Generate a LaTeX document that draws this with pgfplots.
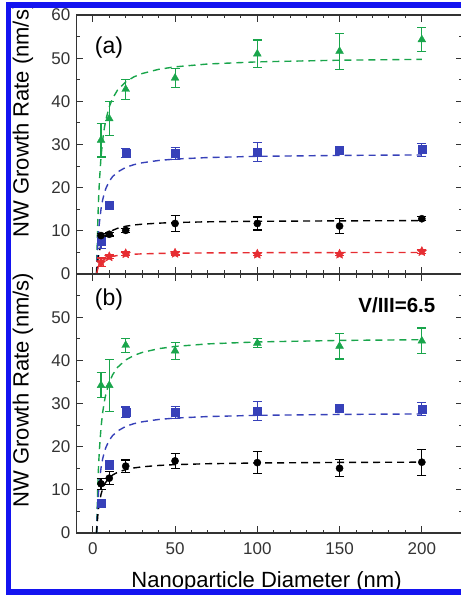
\documentclass[border=0pt]{standalone}
\usepackage{fontspec}
\setmainfont{Liberation Sans}
\usepackage{pgfplots}
\pgfplotsset{compat=1.18}

\definecolor{cgreen}{RGB}{25,165,75}
\definecolor{cblue}{RGB}{55,65,185}
\definecolor{cred}{RGB}{230,45,50}
\definecolor{frameblue}{RGB}{20,20,240}

% filled five-point star
\pgfdeclareplotmark{fstar}{%
  \pgfpathmoveto{\pgfqpointpolar{90}{\pgfplotmarksize}}%
  \pgfpathlineto{\pgfqpointpolar{126}{0.5\pgfplotmarksize}}%
  \pgfpathlineto{\pgfqpointpolar{162}{\pgfplotmarksize}}%
  \pgfpathlineto{\pgfqpointpolar{198}{0.5\pgfplotmarksize}}%
  \pgfpathlineto{\pgfqpointpolar{234}{\pgfplotmarksize}}%
  \pgfpathlineto{\pgfqpointpolar{270}{0.5\pgfplotmarksize}}%
  \pgfpathlineto{\pgfqpointpolar{306}{\pgfplotmarksize}}%
  \pgfpathlineto{\pgfqpointpolar{342}{0.5\pgfplotmarksize}}%
  \pgfpathlineto{\pgfqpointpolar{18}{\pgfplotmarksize}}%
  \pgfpathlineto{\pgfqpointpolar{54}{0.5\pgfplotmarksize}}%
  \pgfpathclose\pgfusepathqfillstroke}

\pgfplotsset{
  nwpanel/.style={
    scale only axis, width=386.6pt, height=259pt,
    anchor=south west,
    xmin=-10, xmax=225, ymin=0, ymax=60,
    xtick={0,50,...,200}, minor x tick num=4,
    ytick={0,10,...,60}, minor y tick num=1,
    tick align=inside, major tick length=7pt, minor tick length=3.5pt,
    tick style={black!80, line width=1pt},
    axis line style={black!80, line width=1.3pt},
    tick label style={font=\fontsize{17}{17}\selectfont, text=black!80},
    label style={font=\fontsize{22}{22}\selectfont},
    /pgf/number format/assume math mode=true,
    xticklabel style={yshift=-6pt},
    yticklabel style={xshift=-2.5pt},
    ylabel={NW Growth Rate (nm/s)},
  },
  fit/.style={no marks, line width=1.4pt, dash pattern=on 7pt off 5pt},
  pts/.style={only marks, mark size=#1,
    error bars/y dir=both, error bars/y explicit,
    error bars/error bar style={line width=1.1pt, solid},
    error bars/error mark options={rotate=90, mark size=4.5pt, line width=1.1pt, solid}},
}

\begin{document}
\begin{tikzpicture}[x=1pt,y=1pt]
\path[use as bounding box] (0,0) rectangle (460,596);

% panel (a)
\begin{axis}[nwpanel, at={(76.35pt,322pt)},
    xticklabels={},
    ylabel style={at={(axis description cs:-0.138,0.595)}, anchor=center}]
\addplot[fit, cgreen] coordinates {(2.3,0) (2.5,4.02) (3,11.74) (3.5,17.25) (4,21.38) (5,27.16) (6,31.02) (7,33.77) (8,35.84) (10,38.73) (12,40.66) (15,42.59) (20,44.52) (25,45.67) (30,46.44) (40,47.41) (50,47.99) (70,48.65) (100,49.14) (150,49.53) (200,49.72)};
\addplot[fit, cblue] coordinates {(2.3,0) (2.5,2.23) (3,6.51) (3.5,9.57) (4,11.86) (5,15.07) (6,17.21) (7,18.73) (8,19.88) (10,21.48) (12,22.55) (15,23.62) (20,24.69) (25,25.33) (30,25.76) (40,26.30) (50,26.62) (70,26.98) (100,27.26) (150,27.47) (200,27.58)};
\addplot[fit, black] coordinates {(2.3,0) (2.5,1.0) (3,2.92) (3.5,4.29) (4,5.31) (5,6.75) (6,7.71) (7,8.39) (8,8.91) (10,9.63) (12,10.10) (15,10.58) (20,11.06) (25,11.35) (30,11.54) (40,11.78) (50,11.93) (70,12.09) (100,12.21) (150,12.31) (200,12.36)};
\addplot[fit, cred] coordinates {(2.3,0) (2.5,0.40) (3,1.18) (3.5,1.73) (4,2.15) (5,2.73) (6,3.11) (7,3.39) (8,3.60) (10,3.89) (12,4.08) (15,4.28) (20,4.47) (25,4.59) (30,4.66) (40,4.76) (50,4.82) (70,4.88) (100,4.93) (150,4.97) (200,4.99)};

\addplot[cgreen, pts=4.5pt, mark=triangle*] coordinates {
  (5,31.0) +- (0,3.9) (10,36.0) +- (0,4.0) (20,42.8) +- (0,2.3) (50,45.4) +- (0,2.2)
  (100,51.0) +- (0,3.2) (150,51.6) +- (0,4.2) (200,54.3) +- (0,2.7)};
\addplot[cblue, pts=4pt, mark=square*] coordinates {
  (5,7.5) +- (0,1.5) (10,15.9) +- (0,0.6) (20,28.0) +- (0,1.0) (50,28.0) +- (0,1.4)
  (100,28.2) +- (0,2.2) (150,28.6) +- (0,0.7) (200,28.8) +- (0,1.5)};
\addplot[black, pts=3.6pt, mark=*] coordinates {
  (5,8.9) +- (0,0.5) (10,9.2) +- (0,0.4) (20,10.1) +- (0,0.5) (50,11.7) +- (0,1.9)
  (100,11.7) +- (0,1.5) (150,11.1) +- (0,1.7) (200,12.8) +- (0,0.5)};
\addplot[cred, pts=5pt, mark=fstar] coordinates {
  (5,2.7) +- (0,1.0) (10,4.0) +- (0,0.4) (20,4.7) +- (0,0.4) (50,4.8) +- (0,0.4)
  (100,4.6) +- (0,0.4) (150,4.6) +- (0,0.4) (200,5.2) +- (0,0.5)};

\node[font=\fontsize{23}{23}\selectfont] at (axis description cs:0.0845,0.876) {(a)};
\end{axis}

% panel (b)
\begin{axis}[nwpanel, at={(76.35pt,63pt)},
    yticklabels={0,10,20,30,40,50,{}},
    xlabel={Nanoparticle Diameter (nm)},
    xlabel style={at={(axis description cs:0.492,-0.212)}, anchor=base},
    ylabel style={at={(axis description cs:-0.138,0.552)}, anchor=center}]
\addplot[fit, cgreen] coordinates {(2.3,0) (2.5,3.62) (3,10.57) (3.5,15.53) (4,19.25) (5,24.46) (6,27.94) (7,30.41) (8,32.28) (10,34.88) (12,36.62) (15,38.36) (20,40.09) (25,41.13) (30,41.83) (40,42.70) (50,43.22) (70,43.81) (100,44.26) (150,44.61) (200,44.78)};
\addplot[fit, cblue] coordinates {(2.3,0) (2.5,2.23) (3,6.51) (3.5,9.57) (4,11.86) (5,15.07) (6,17.21) (7,18.73) (8,19.88) (10,21.48) (12,22.55) (15,23.62) (20,24.69) (25,25.33) (30,25.76) (40,26.30) (50,26.62) (70,26.98) (100,27.26) (150,27.47) (200,27.58)};
\addplot[fit, black] coordinates {(2.3,0) (2.5,1.33) (3,3.87) (3.5,5.69) (4,7.06) (5,8.96) (6,10.24) (7,11.15) (8,11.83) (10,12.78) (12,13.42) (15,14.06) (20,14.69) (25,15.07) (30,15.33) (40,15.65) (50,15.84) (70,16.05) (100,16.22) (150,16.35) (200,16.41)};

\addplot[cgreen, pts=4.5pt, mark=triangle*] coordinates {
  (5,34.2) +- (0,2.9) (10,34.2) +- (0,6.0) (20,43.5) +- (0,1.6) (50,42.2) +- (0,2.0)
  (100,44.0) +- (0,1.0) (150,43.3) +- (0,3.0) (200,44.5) +- (0,3.0)};
\addplot[cblue, pts=4pt, mark=square*] coordinates {
  (5,6.9) +- (0,0.8) (10,15.8) +- (0,1.0) (20,28.0) +- (0,1.2) (50,27.9) +- (0,1.4)
  (100,28.3) +- (0,2.2) (150,28.8) +- (0,0.7) (200,28.7) +- (0,1.5)};
\addplot[black, pts=3.6pt, mark=*] coordinates {
  (5,11.4) +- (0,1.3) (10,12.7) +- (0,1.5) (20,15.5) +- (0,1.4) (50,16.7) +- (0,1.7)
  (100,16.3) +- (0,2.5) (150,15.0) +- (0,2.0) (200,16.4) +- (0,3.0)};

\node[font=\fontsize{23}{23}\selectfont] at (axis description cs:0.0845,0.90) {(b)};
\node[font=\bfseries\fontsize{20.5}{20.5}\selectfont] at (axis description cs:0.829,0.88) {V/III=6.5};
\end{axis}

\draw[frameblue, line width=5.5pt] (8.5,591) rectangle (470,4);
\end{tikzpicture}
\end{document}
